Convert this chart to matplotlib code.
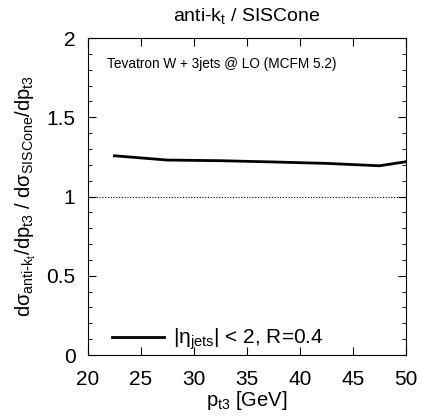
"""Ratio anti-kt / SISCone for Tevatron W + 3 jets."""

import matplotlib
matplotlib.use("Agg")
import matplotlib.pyplot as plt
from matplotlib.ticker import MultipleLocator, FuncFormatter

plt.rcParams["font.family"] = ["Liberation Sans", "DejaVu Sans"]
plt.rcParams["mathtext.default"] = "regular"

pt3 = [22.5, 27.5, 32.5, 37.5, 42.5, 47.5, 52.5]
ratio = [1.257, 1.230, 1.226, 1.218, 1.209, 1.194, 1.245]


def main():
    fig = plt.figure(figsize=(4.22, 4.16), dpi=100)
    ax = fig.add_axes([0.2085, 0.1466, 0.7535, 0.762])

    ax.plot(pt3, ratio, color="black", lw=2, label=r"|$\eta_{jets}$| < 2, R=0.4")
    ax.axhline(1.0, color="black", lw=0.8, ls=(0, (1, 1.5)))

    ax.set_xlim(20, 50)
    ax.set_ylim(0, 2)
    ax.xaxis.set_major_locator(MultipleLocator(5))
    ax.yaxis.set_major_locator(MultipleLocator(0.5))
    ax.yaxis.set_minor_locator(MultipleLocator(0.1))
    ax.yaxis.set_major_formatter(FuncFormatter(lambda v, p: f"{v:g}"))
    ax.tick_params(which="both", direction="in", top=True, right=True, labelsize=15)
    ax.tick_params(which="major", length=6)
    ax.tick_params(which="minor", length=3)
    ax.tick_params(axis="y", pad=9)
    ax.tick_params(axis="x", pad=11)

    ax.set_xlabel(r"p$_{t3}$ [GeV]", fontsize=14.5, labelpad=0)
    ax.set_ylabel(r"d$\sigma_{anti\text{-}k_t}$/dp$_{t3}$ / d$\sigma_{SISCone}$/dp$_{t3}$",
                  fontsize=14.5, labelpad=6)
    ax.set_title(r"anti-k$_t$ / SISCone", fontsize=14, pad=12)
    ax.text(0.06, 0.94, "Tevatron W + 3jets @ LO (MCFM 5.2)", transform=ax.transAxes,
            fontsize=9.8, va="top", ha="left")
    ax.legend(loc="lower left", frameon=False, fontsize=15, handlelength=2.5,
              handletextpad=0.4, borderaxespad=0.0, bbox_to_anchor=(0.05, -0.018))

    fig.savefig("out.png", dpi=100)


if __name__ == "__main__":
    main()
